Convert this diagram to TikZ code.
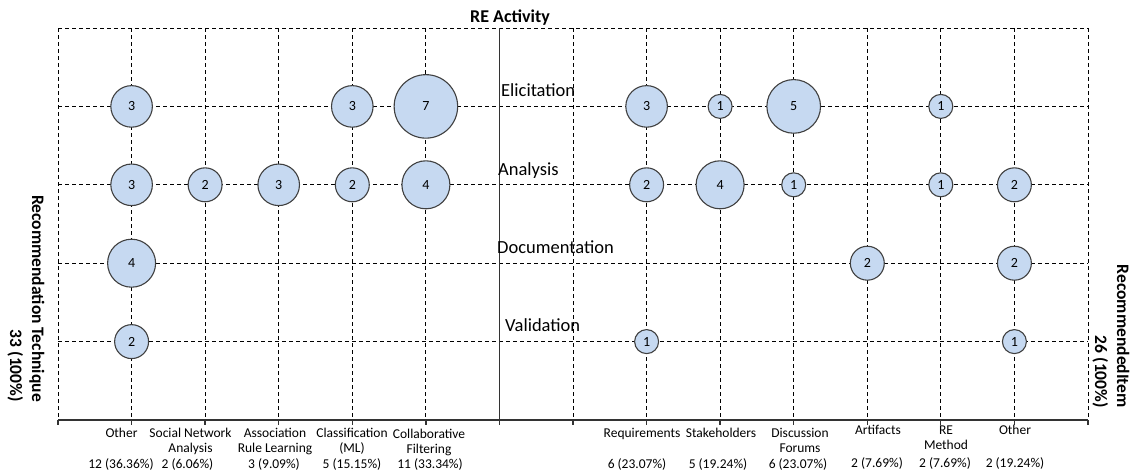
\documentclass[tikz,border=0pt]{standalone}
\usepackage{fontspec}
\setmainfont{Carlito}
\usetikzlibrary{positioning}

\definecolor{bubblefill}{HTML}{C6D9F1}
\definecolor{bubbleline}{HTML}{404040}

\tikzset{
  bubble/.style={circle, draw=bubbleline, fill=bubblefill, line width=1.1pt,
    inner sep=0pt, minimum size={24*sqrt(#1)}, font=\fontsize{14}{14}\selectfont},
  gridline/.style={dash pattern=on 4pt off 3pt, line width=0.9pt},
  axisline/.style={line width=1.3pt, draw=black!80},
  activity/.style={anchor=base west, inner sep=0pt, font=\fontsize{18.5}{20}\selectfont},
  category/.style={anchor=base, inner sep=0pt, align=center, font=\fontsize{13.5}{15}\selectfont},
  share/.style={anchor=base, inner sep=0pt, font=\fontsize{13.5}{15}\selectfont},
  sidelabel/.style={rotate=-90, anchor=east, align=right, inner sep=0pt,
    font=\bfseries\fontsize{17.5}{22}\selectfont},
}

\begin{document}
\begin{tikzpicture}[x=1pt, y=-1pt]
    \useasboundingbox (0,0) rectangle (1135,475);

    % grid
    \foreach \x in {58,131.6,205.1,278.7,352.3,425.9,573,646.6,720.1,793.7,867.3,940.8,1014.4,1088}
        \draw[gridline] (\x,28) -- (\x,420);
    \foreach \y in {28,106.4,184.8,263.2,341.6}
        \draw[gridline] (58,\y) -- (1088,\y);

    % axes
    \draw[axisline] (499.4,28) -- (499.4,420);
    \draw[axisline] (58,420) -- (1088,420);
    \foreach \x in {58,131.6,205.1,278.7,352.3,425.9,499.4,573,646.6,720.1,793.7,867.3,940.8,1014.4,1088}
        \draw[axisline] (\x,420) -- (\x,425);

    \node[anchor=base, inner sep=0pt, font=\bfseries\fontsize{18}{20}\selectfont] at (510, 22)(title){RE Activity};

    \node[activity] at (501, 96.5)(elic){Elicitation};
    \node[activity] at (498, 175.5)(anal){Analysis};
    \node[activity] at (497, 253)(docu){Documentation};
    \node[activity] at (505, 331)(vali){Validation};

    % elicitation
    \node[bubble=3] at (131.6, 106.4)(el-other){3};
    \node[bubble=3] at (352.3, 106.4)(el-class){3};
    \node[bubble=7] at (425.9, 106.4)(el-collab){7};
    \node[bubble=3] at (646.6, 106.4)(el-req){3};
    \node[bubble=1] at (720.1, 106.4)(el-stake){1};
    \node[bubble=5] at (793.7, 106.4)(el-forum){5};
    \node[bubble=1] at (940.8, 106.4)(el-method){1};

    % analysis
    \node[bubble=3] at (131.6, 184.8)(an-other){3};
    \node[bubble=2] at (205.1, 184.8)(an-sna){2};
    \node[bubble=3] at (278.7, 184.8)(an-arl){3};
    \node[bubble=2] at (352.3, 184.8)(an-class){2};
    \node[bubble=4] at (425.9, 184.8)(an-collab){4};
    \node[bubble=2] at (646.6, 184.8)(an-req){2};
    \node[bubble=4] at (720.1, 184.8)(an-stake){4};
    \node[bubble=1] at (793.7, 184.8)(an-forum){1};
    \node[bubble=1] at (940.8, 184.8)(an-method){1};
    \node[bubble=2] at (1014.4, 184.8)(an-item){2};

    % documentation
    \node[bubble=4] at (131.6, 263.2)(do-other){4};
    \node[bubble=2] at (867.3, 263.2)(do-artif){2};
    \node[bubble=2] at (1014.4, 263.2)(do-item){2};

    % validation
    \node[bubble=2] at (131.6, 341.6)(va-other){2};
    \node[bubble=1] at (646.6, 341.6)(va-req){1};
    \node[bubble=1] at (1014.4, 341.6)(va-item){1};

    % techniques (base = last line)
    \node[category] at (121.5, 437)(t-other){Other};
    \node[category] at (190.5, 452)(t-sna){Social Network\\Analysis};
    \node[category] at (275, 452)(t-arl){Association\\Rule Learning};
    \node[category] at (352, 452)(t-class){Classification\\(ML)};
    \node[category] at (429, 453)(t-collab){Collaborative\\Filtering};
    \node[share] at (121, 468)(s-other){12 (36.36\%)};
    \node[share] at (187.5, 468)(s-sna){2 (6.06\%)};
    \node[share] at (274, 468)(s-arl){3 (9.09\%)};
    \node[share] at (352, 468)(s-class){5 (15.15\%)};
    \node[share] at (430, 468)(s-collab){11 (33.34\%)};

    % items
    \node[category] at (642, 437)(i-req){Requirements};
    \node[category] at (721, 437)(i-stake){Stakeholders};
    \node[category] at (800, 452)(i-forum){Discussion\\Forums};
    \node[category] at (878, 434)(i-artif){Artifacts};
    \node[category] at (946, 449)(i-method){RE\\Method};
    \node[category] at (1015, 434)(i-other){Other};
    \node[share] at (637, 468)(p-req){6 (23.07\%)};
    \node[share] at (718, 468)(p-stake){5 (19.24\%)};
    \node[share] at (798, 468)(p-forum){6 (23.07\%)};
    \node[share] at (877, 467)(p-artif){2 (7.69\%)};
    \node[share] at (945, 467)(p-method){2 (7.69\%)};
    \node[share] at (1015, 467)(p-other){2 (19.24\%)};

    \node[sidelabel] at (26, 402)(techlabel){Recommendation Technique\\33 (100\%)};
    \node[sidelabel] at (1111, 408)(itemlabel){RecommendedItem\\26 (100\%)};
\end{tikzpicture}
\end{document}
